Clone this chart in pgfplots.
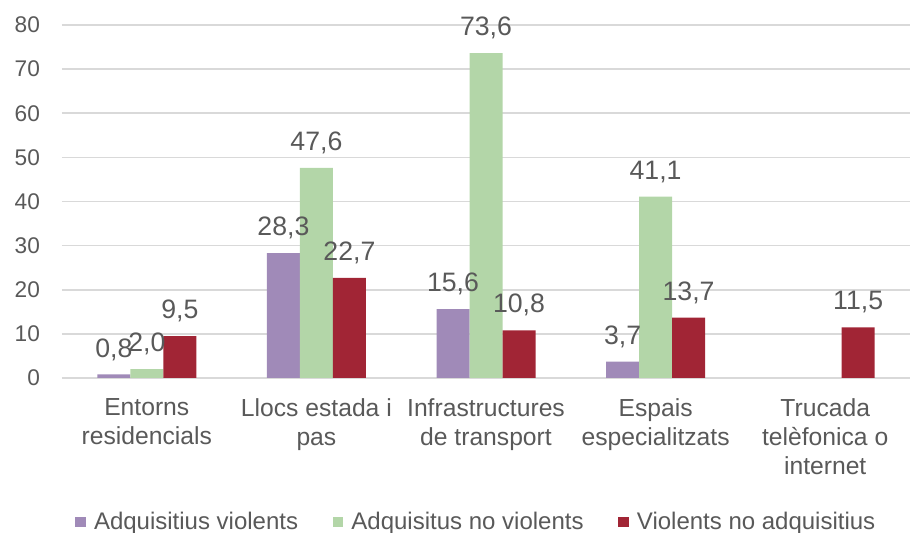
\documentclass[border=0pt]{standalone}
\usepackage{pgfplots}
\pgfplotsset{compat=1.18}
\usepackage{fontspec}
\setmainfont{Liberation Sans}
\usetikzlibrary{calc}

\definecolor{cpurple}{RGB}{160,138,184}
\definecolor{cgreen}{RGB}{179,214,168}
\definecolor{cred}{RGB}{161,37,53}
\definecolor{ctext}{RGB}{89,89,89}
\definecolor{cgrid}{RGB}{217,217,217}

\begin{document}
\begin{tikzpicture}
\begin{axis}[
    scale only axis,
    width=636pt, height=264.75pt,
    xmin=-0.5, xmax=4.5, ymin=0, ymax=80,
    ybar=0pt, bar width=24.75pt,
    axis line style={draw=none},
    axis x line*=bottom,
    ymajorgrids, grid style={cgrid, line width=1.2pt},
    ytick={0,10,...,80},
    xtick={0,1,2,3,4},
    xticklabels={Entorns\\residencials, Llocs estada i\\pas, Infrastructures\\de transport, Espais\\especialitzats, Trucada\\telèfonica o\\internet},
    xticklabel style={align=center, font=\fontsize{18.5}{21.75}\selectfont, text=ctext, yshift=-12pt},
    yticklabel style={font=\fontsize{17}{20}\selectfont, text=ctext, xshift=-13pt},
    /pgf/number format/assume math mode=true,
    major tick length=0pt,
    nodes near coords={\pgfmathprintnumber[fixed, fixed zerofill, precision=1, use comma]{\pgfplotspointmeta}},
    every node near coord/.append style={font=\fontsize{20}{24}\selectfont, text=ctext, yshift=7pt},
    legend style={at={(0.489,-0.408)}, anchor=center, draw=none, legend columns=3,
        font=\fontsize{18}{21}\selectfont, text=ctext,
        /tikz/every odd column/.append style={column sep=4pt},
        /tikz/every even column/.append style={column sep=24pt}},
    legend image code/.code={\fill[#1] (0pt,-4pt) rectangle (8pt,4pt);},
]
\addplot[fill=cpurple, draw=none] coordinates {(0,0.8) (1,28.3) (2,15.6) (3,3.7)};
\addlegendentry{Adquisitius violents}
\addplot[fill=cgreen, draw=none] coordinates {(0,2.0) (1,47.6) (2,73.6) (3,41.1)};
\addlegendentry{Adquisitus no violents}
\addplot[fill=cred, draw=none] coordinates {(0,9.5) (1,22.7) (2,10.8) (3,13.7) (4,11.5)};
\addlegendentry{Violents no adquisitius}
\end{axis}
\pgfresetboundingbox
\path ($(current axis.south west)+(-46.5pt,-116.25pt)$) rectangle ($(current axis.north east)+(2.25pt,18.75pt)$);
\end{tikzpicture}
\end{document}
